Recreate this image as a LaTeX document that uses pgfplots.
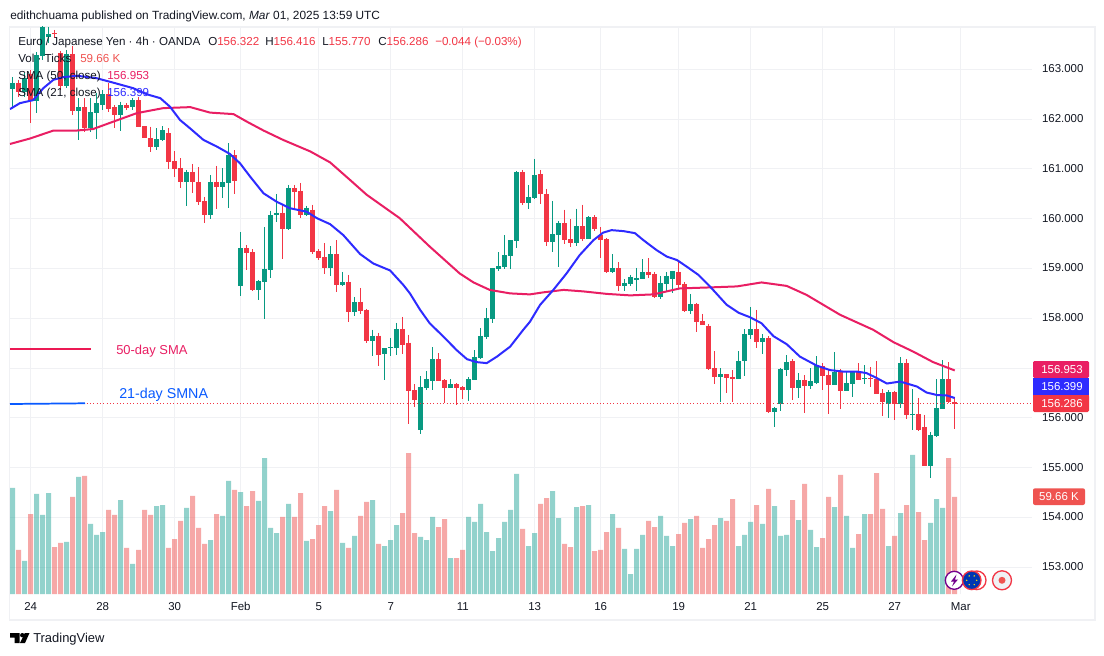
\documentclass[border=0pt]{standalone}
\usepackage{fontspec}
\setmainfont{Liberation Sans}
\usepackage{pgfplots}
\usepackage{pgfplotstable}
\pgfplotsset{compat=1.18}
\definecolor{cgreen}{HTML}{089981}
\definecolor{cred}{HTML}{F23645}
\definecolor{vgreen}{HTML}{26A69A}
\definecolor{vred}{HTML}{EF5350}
\definecolor{sblue}{HTML}{2E2BFF}
\definecolor{spink}{HTML}{E91E63}
\definecolor{gridc}{HTML}{F0F1F4}
\definecolor{txt}{HTML}{131722}
\pgfplotstableread{
i o h l c
0 162.61 162.84 162.24 162.73
2 162.55 162.92 162.45 162.82
4 162.37 163.35 162.12 163.29
5 163.27 163.95 163.19 163.85
6 163.64 163.85 163.52 163.71
9 162.67 163.39 162.62 163.31
11 162.16 162.42 161.57 162.24
13 161.82 162.42 161.75 162.14
14 162.13 162.52 161.59 162.32
15 162.28 162.58 162.18 162.50
18 162.08 162.35 161.77 162.28
20 162.24 162.42 162.18 162.38
24 161.44 161.82 161.38 161.60
25 161.58 161.86 161.55 161.78
29 160.74 160.98 160.26 160.94
33 160.07 160.88 159.99 160.74
35 160.64 161.02 160.41 160.74
36 160.72 161.51 160.22 161.28
38 158.65 159.73 158.45 159.41
41 158.57 158.77 158.37 158.75
42 158.73 159.83 157.99 158.99
43 158.97 160.16 158.81 160.07
44 160.07 160.50 159.93 160.12
46 159.79 160.68 159.77 160.62
49 160.07 160.26 160.05 160.22
53 159.01 159.45 158.85 159.29
55 158.67 158.93 158.65 158.73
57 158.13 158.43 158.05 158.33
60 157.55 157.77 157.24 157.65
62 157.28 157.40 156.76 157.40
63 157.40 157.61 157.24 157.42
64 157.40 157.91 157.26 157.79
68 155.76 156.84 155.68 156.62
69 156.60 156.94 156.56 156.78
70 156.74 157.42 156.56 157.18
73 156.60 156.78 156.60 156.68
76 156.56 156.82 156.34 156.78
77 156.76 157.36 156.76 157.22
78 157.20 157.81 157.18 157.65
79 157.63 158.21 157.59 158.01
80 157.99 159.01 157.91 159.01
81 158.99 159.33 158.95 159.05
82 159.03 159.67 158.99 159.27
83 159.25 159.57 158.99 159.57
84 159.55 160.96 159.41 160.94
86 160.32 160.68 160.20 160.44
87 160.42 161.20 160.40 160.88
90 159.53 160.36 159.33 159.69
91 159.67 159.95 159.03 159.91
94 159.51 160.20 159.45 159.85
96 159.59 160.05 159.59 160.03
100 158.93 159.29 158.91 159.01
102 158.65 158.79 158.55 158.71
103 158.69 158.87 158.65 158.83
104 158.77 159.01 158.55 158.81
105 158.79 159.19 158.79 158.93
108 158.43 158.85 158.39 158.71
109 158.69 158.93 158.55 158.85
110 158.79 158.95 158.51 158.95
113 158.15 158.49 158.09 158.29
118 156.82 157.00 156.32 156.88
121 156.78 157.34 156.78 157.14
122 157.14 157.78 156.84 157.68
123 157.66 158.23 157.58 157.78
125 157.52 157.68 157.28 157.60
127 156.12 156.22 155.82 156.20
128 156.28 157.00 156.14 156.98
129 156.96 157.26 156.84 157.12
131 156.60 156.90 156.40 156.76
133 156.64 157.00 156.58 156.74
134 156.70 157.24 156.68 157.06
137 156.66 157.32 156.66 156.92
139 156.54 156.92 156.54 156.70
140 156.68 156.94 156.42 156.92
142 156.78 157.06 156.68 156.80
146 156.28 156.56 156.00 156.52
148 156.28 157.22 156.20 157.10
150 156.06 156.58 155.76 156.08
153 155.03 155.72 154.79 155.66
154 155.64 156.78 155.62 156.20
155 156.18 157.16 156.18 156.78
}\upT
\pgfplotstableread{
i o h l c
1 162.73 162.79 162.45 162.55
3 162.91 162.99 161.93 162.36
7 163.72 163.79 163.62 163.70
8 163.32 163.37 162.58 162.67
10 163.31 163.47 162.08 162.16
12 162.24 162.42 161.75 161.82
16 162.50 162.72 162.15 162.20
17 162.24 162.28 161.82 162.08
19 162.28 162.32 162.18 162.22
21 162.38 162.44 161.84 161.85
22 161.86 161.86 161.62 161.62
23 161.62 161.85 161.33 161.44
26 161.72 161.82 161.00 161.14
27 161.16 161.35 160.84 161.00
28 161.02 161.21 160.61 160.74
30 160.94 161.10 160.51 160.74
31 160.74 161.03 160.28 160.34
32 160.36 160.44 159.92 160.07
34 160.74 161.06 160.19 160.64
37 161.28 161.37 160.50 160.76
39 159.41 159.47 158.96 159.31
40 159.33 159.39 158.54 158.57
45 160.12 160.28 159.19 159.79
47 160.62 160.68 160.18 160.54
48 160.56 160.72 160.01 160.07
50 160.18 160.28 159.29 159.33
51 159.35 159.39 159.17 159.21
52 159.23 159.51 158.89 159.01
54 159.29 159.57 158.52 158.67
56 158.73 158.87 157.93 158.13
58 158.33 158.61 158.09 158.15
59 158.17 158.19 157.51 157.55
61 157.65 157.71 157.04 157.26
65 157.79 158.03 157.28 157.46
66 157.51 157.67 155.88 156.54
67 156.56 156.68 156.22 156.36
71 157.18 157.30 156.74 156.74
72 156.76 156.78 156.30 156.60
74 156.68 156.70 156.26 156.60
75 156.62 156.64 156.38 156.56
85 160.94 160.98 160.28 160.32
88 160.90 160.98 160.30 160.50
89 160.50 160.60 159.45 159.53
92 159.91 160.18 159.49 159.57
93 159.59 159.99 159.43 159.51
95 159.85 160.28 159.55 159.59
97 160.03 160.07 159.75 159.79
98 159.67 159.83 159.21 159.57
99 159.59 159.61 158.91 158.93
101 159.01 159.13 158.55 158.65
106 158.93 159.21 158.81 158.87
107 158.89 158.93 158.41 158.43
111 158.93 159.15 158.59 158.67
112 158.69 158.73 158.13 158.15
114 158.29 158.31 157.73 157.93
115 157.95 158.09 157.87 157.87
116 157.85 157.89 156.96 156.98
117 157.00 157.34 156.68 156.82
119 156.88 156.88 156.50 156.80
120 156.82 156.96 156.32 156.78
124 157.78 158.17 157.40 157.52
126 157.60 157.64 156.10 156.12
130 157.14 157.18 156.36 156.60
132 156.76 156.86 156.10 156.64
135 157.04 157.10 156.56 156.84
136 156.86 156.96 156.08 156.66
138 156.92 156.98 156.18 156.54
141 156.92 157.10 156.76 156.76
143 156.80 157.02 156.62 156.78
144 156.78 157.14 156.48 156.48
145 156.50 156.58 156.04 156.32
147 156.52 156.54 155.96 156.28
149 157.10 157.18 155.98 156.06
151 156.08 156.40 155.74 155.76
152 155.82 156.06 155.03 155.03
156 156.78 157.12 156.30 156.32
157 156.322 156.416 155.770 156.286
}\downT
\pgfplotstableread{
i v
0 65.2
2 20.3
4 61.5
5 48.6
6 62.1
9 32.0
11 72.0
13 43.1
14 36.3
15 38.1
18 57.8
20 18.5
24 54.1
25 54.7
29 52.9
33 33.2
35 48.0
36 69.5
38 62.7
41 57.2
42 83.6
43 40.6
44 37.5
46 55.4
49 32.6
53 51.0
55 31.4
57 35.7
60 57.8
62 29.5
63 33.2
64 42.4
68 35.1
69 33.2
70 47.4
73 22.1
76 47.4
77 44.3
78 55.4
79 38.1
80 26.4
81 34.4
82 44.3
83 51.7
84 73.8
86 29.5
87 37.5
90 63.3
91 46.7
94 53.5
96 54.7
100 49.2
102 27.7
103 12.3
104 27.7
105 36.3
108 48.0
109 35.7
110 29.5
113 46.1
118 46.7
121 29.5
122 36.3
123 44.3
125 43.1
127 54.1
128 35.7
129 36.3
131 45.5
133 39.4
134 28.9
137 53.5
139 48.0
140 28.3
142 49.2
146 29.5
148 49.8
150 85.5
153 43.7
154 58.4
155 52.9
}\volUp
\pgfplotstableread{
i v
1 27.1
3 49.2
7 28.9
8 31.4
10 59.7
12 72.6
16 51.7
17 48.6
19 28.3
21 27.1
22 51.7
23 48.6
26 28.3
27 33.8
28 44.9
30 60.3
31 40.6
32 30.8
34 49.2
37 64.0
39 54.1
40 63.3
45 47.4
47 47.4
48 62.1
50 33.8
51 42.4
52 54.1
54 64.0
56 28.3
58 48.0
59 56.6
61 30.8
65 49.8
66 86.7
67 37.5
71 41.2
72 46.1
74 22.1
75 27.1
85 40.0
88 55.4
89 59.0
92 30.8
93 28.9
95 54.1
97 26.4
98 27.1
99 38.1
101 40.6
106 44.9
107 41.2
111 36.9
112 43.7
114 48.0
115 28.3
116 33.8
117 42.4
119 44.9
120 58.4
124 54.7
126 64.6
130 57.8
132 67.7
135 34.4
136 59.7
138 73.2
141 36.9
143 49.2
144 74.4
145 52.3
147 35.7
149 54.7
151 50.4
152 33.2
156 83.6
157 59.66
}\volDown
\pgfplotstableread{
i p
-0.45 162.20
1.2 162.32
3.4 162.38
5.1 162.62
6.8 162.79
8.4 162.84
10.7 162.87
14 162.82
16.8 162.73
20.1 162.62
22.3 162.50
24.6 162.42
26.2 162.25
27.9 161.98
29.6 161.81
31.8 161.58
34 161.45
36.2 161.30
37.9 161.11
39.6 160.84
41.8 160.51
44 160.34
46.2 160.21
49 160.14
50.7 160.01
52.9 159.89
55.1 159.67
57.9 159.29
60.1 159.10
62.9 158.96
65.1 158.67
66.2 158.50
67.9 158.17
69.5 157.90
71.8 157.63
74 157.36
75.7 157.18
77.3 157.12
79 157.10
80.7 157.23
82.9 157.43
85.1 157.77
86.2 157.93
87.9 158.27
90.1 158.57
92.3 158.90
94.5 159.27
96.8 159.57
98.4 159.72
99.8 159.77
101.8 159.75
103.7 159.71
105.1 159.57
107.3 159.37
109 159.24
110.7 159.17
112.3 159.04
114.3 158.87
116.2 158.64
119 158.27
121 158.11
122.9 158.02
124.8 157.90
126.8 157.64
129 157.48
131.2 157.23
134 157.05
136.2 156.96
138.4 156.93
140.7 156.93
142.3 156.90
144 156.80
145.7 156.69
147.9 156.73
150.7 156.63
152.3 156.51
154 156.46
155.7 156.45
157 156.399
}\smaB
\pgfplotstableread{
i p
-0.45 161.50
2.9 161.61
6.8 161.77
10.7 161.77
13.4 161.80
16.8 161.95
20.7 162.12
25.1 162.22
29.6 162.24
32.9 162.13
36.8 162.10
39 161.95
41.8 161.77
45.1 161.58
49.6 161.35
52.9 161.13
56.2 160.78
59 160.48
64.5 160.01
69.5 159.44
74.5 158.90
76.8 158.72
79.5 158.57
82.9 158.50
86.2 158.48
88.4 158.52
91.8 158.57
95.1 158.54
99 158.49
102.9 158.46
106.8 158.48
111.2 158.60
116.2 158.62
120.7 158.64
124.8 158.72
129 158.65
132.3 158.47
137.9 158.07
143.4 157.77
146.8 157.52
150.1 157.33
153.4 157.12
157 156.953
}\smaP
\pgfplotsset{pane/.style={
  at={(7.5pt,-445.5pt)}, anchor=south west, scale only axis,
  width=766.5pt, height=425.25pt,
  xmin=-0.45, xmax=169.88}}
\begin{document}
\begin{tikzpicture}[x=0.75pt,y=-0.75pt]
\path[use as bounding box,fill=white] (0,0) rectangle (1104,656);
\draw[gridc,line width=1.2pt] (9.5,27) rectangle (1095,620);
% grid and ticks
\begin{axis}[pane, ymin=152.464, ymax=163.849,
  axis line style={draw=none}, tick style={draw=none},
  xtick={3,15,27,38,51,63,75,87,98,111,123,135,147,158},
  xticklabels={24,28,30,Feb,5,7,11,13,16,19,21,25,27,Mar},
  ytick={153,154,155,156,157,158,159,160,161,162,163},
  yticklabel pos=right,
  /pgf/number format/assume math mode=true,
  /pgf/number format/.cd, fixed, fixed zerofill, precision=3, 1000 sep={},
  /pgfplots/.cd,
  grid=major, grid style={gridc,line width=0.75pt},
  tick label style={font=\fontsize{8.6pt}{10pt}\selectfont,text=txt},
  yticklabel style={xshift=4pt,yshift=0.4pt},
  xticklabel style={yshift=-2.7pt},
]
\end{axis}
% volume
\begin{axis}[pane, hide axis, ymin=0, ymax=348.7, ybar, bar width=3.75pt]
\addplot[bar shift=0pt, draw=none, fill=vgreen, fill opacity=0.5] table[x=i,y=v] {\volUp};
\addplot[bar shift=0pt, draw=none, fill=vred, fill opacity=0.5] table[x=i,y=v] {\volDown};
\end{axis}
% candles
\begin{axis}[pane, hide axis, ymin=152.464, ymax=163.849, no markers]
\addplot[draw=none, error bars/.cd, y dir=minus, y explicit, error mark=none,
  error bar style={draw=cgreen,line width=0.75pt}]
  table[x=i,y=h,y error minus expr=\thisrow{h}-\thisrow{l}] {\upT};
\addplot[draw=none, error bars/.cd, y dir=minus, y explicit, error mark=none,
  error bar style={draw=cred,line width=0.75pt}]
  table[x=i,y=h,y error minus expr=\thisrow{h}-\thisrow{l}] {\downT};
\addplot[draw=none, error bars/.cd, y dir=minus, y explicit, error mark=none,
  error bar style={draw=cgreen,line width=3.75pt}]
  table[x=i,y=c,y error minus expr=\thisrow{c}-\thisrow{o}] {\upT};
\addplot[draw=none, error bars/.cd, y dir=minus, y explicit, error mark=none,
  error bar style={draw=cred,line width=3.75pt}]
  table[x=i,y=o,y error minus expr=\thisrow{o}-\thisrow{c}] {\downT};
\addplot[cred, line width=0.75pt, dash pattern=on 0.8pt off 1.7pt] coordinates {(-0.45,156.286) (169.88,156.286)};
\addplot[spink, line width=1.5pt, line join=round] table[x=i,y=p] {\smaP};
\addplot[sblue, line width=1.5pt, line join=round] table[x=i,y=p] {\smaB};
\end{axis}
% annotations
\draw[color=spink!85!red,line width=1.3pt] (10,349) -- (91,349);
\draw[color=blue!60!cyan!80!sblue,line width=1.3pt] (10,404) -- (85,403.3);
\node[anchor=west,inner sep=0,text=spink,font=\fontsize{9.7pt}{12pt}\selectfont] at (116,351.5) {50-day SMA};
\node[anchor=west,inner sep=0,text=blue!60!cyan!80!sblue,font=\fontsize{10.7pt}{12pt}\selectfont] at (119,394.5) {21-day SMNA};
% header and legend
\tikzset{t/.style={anchor=base west,inner sep=0,text=txt,font=\fontsize{8.7pt}{10pt}\selectfont}}
\node[t,font=\fontsize{8.9pt}{10pt}\selectfont] at (10,19.5) {edithchuama published on TradingView.com, \textit{Mar} 01, 2025 13:59 UTC};
\node[t] at (18,46) {Euro / Japanese Yen · 4h · OANDA};
\node[t] at (208,46) {O\textcolor{cred}{156.322}};
\node[t] at (265,46) {H\textcolor{cred}{156.416}};
\node[t] at (322,46) {L\textcolor{cred}{155.770}};
\node[t] at (378,46) {C\textcolor{cred}{156.286}};
\node[t,text=cred] at (435,46) {−0.044 (−0.03\%)};
\node[t] at (18,63) {Vol · Ticks};
\node[t,text=vred] at (80,63) {59.66 K};
\node[t] at (18,80) {SMA (50, close)};
\node[t,text=spink] at (107,80) {156.953};
\node[t] at (18,97) {SMA (21, close)};
\node[t,text=sblue] at (107,97) {156.399};
% price tags
\tikzset{tag/.style={text=white,font=\fontsize{8.6pt}{10pt}\selectfont,inner sep=0}}
\fill[spink,rounded corners=1pt] (1033,361) rectangle (1089,378);
\fill[sblue] (1033,378) rectangle (1089,395);
\fill[cred,rounded corners=1pt] (1033,395) rectangle (1089,412);
\fill[cred] (1033,395) rectangle (1089,400);
\fill[vred,rounded corners=1.5pt] (1033,488.3) rectangle (1085,505);
\node[tag] at (1062,369.5) {156.953};
\node[tag] at (1062,386.5) {156.399};
\node[tag] at (1062,403.5) {156.286};
\node[tag] at (1059,496.7) {59.66 K};
% event icons
\draw[fill=white,draw=purple!60!blue,line width=1pt] (954.3,580.3) circle (9);
\fill[purple!60!blue] (956.5,574.5) -- (951,581.5) -- (954,581.5) -- (952,586.5) -- (958,579.5) -- (955,579.5) -- cycle;
\draw[fill=white,draw=cred,line width=1pt] (976.7,580.3) circle (9.3);
\draw[fill=blue!70!cyan!70!black,draw=cred,line width=1pt] (971.7,580.3) circle (9.3);
\foreach \a in {0,60,...,300}{\fill[yellow!85!orange] (971.7,580.3) ++(\a:5) circle (0.8);}
\draw[fill=gridc,draw=cred,line width=1pt] (1002,580.3) circle (9.5);
\fill[vred] (1002,580.3) circle (3.5);
% logo
\fill[black] (10,633)--(19.5,633)--(19.5,643)--(14.5,643)--(14.5,637.5)--(10,637.5)--cycle;
\fill[black] (22.3,635.2) circle (2.2);
\fill[black] (24.8,633)--(29.5,633)--(25,643)--(20,643)--cycle;
\node[anchor=base west,inner sep=0,text=txt,font=\fontsize{9.7pt}{12pt}\selectfont] at (33,642.5) {TradingView};
\end{tikzpicture}
\end{document}
